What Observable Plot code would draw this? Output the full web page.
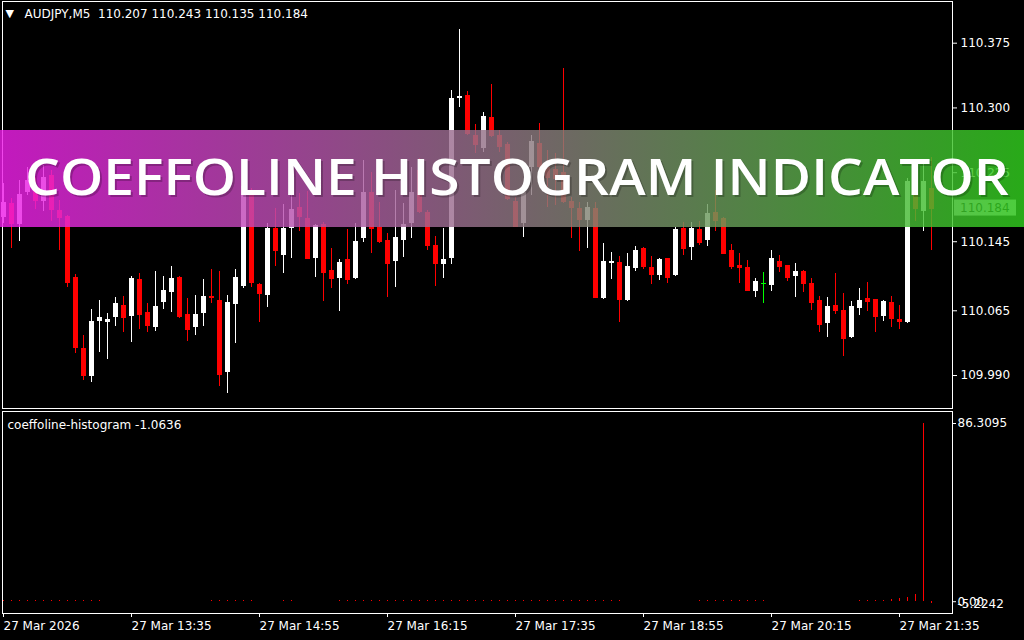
<!DOCTYPE html>
<html><head><meta charset="utf-8">
<script src="https://cdn.jsdelivr.net/npm/d3@7"></script>
<script src="https://cdn.jsdelivr.net/npm/@observablehq/plot@0.6"></script>
<style>
html,body{margin:0;padding:0;background:#000;}
#chart{width:1024px;height:640px;background:#000;overflow:hidden;position:relative;}
#chart svg{display:block;}
</style></head><body><div id="chart"></div>
<script>
const symbol = "AUDJPY,M5";
const opens = [110.173,110.189,110.165,110.202,110.208,110.192,110.222,110.181,110.174,110.104,
110.021,109.989,110.053,110.051,110.057,110.071,110.058,110.101,110.063,110.046,
110.075,110.086,110.104,110.061,110.046,110.062,110.082,110.077,109.994,110.072,
110.093,110.201,110.096,110.083,110.160,110.129,110.160,110.185,110.172,110.126,
110.165,110.112,110.102,110.124,110.102,110.149,110.202,110.161,110.146,110.122,
110.146,110.166,110.228,110.179,110.141,110.119,110.126,110.311,110.314,110.268,
110.253,110.289,110.268,110.258,110.192,110.166,110.231,110.259,110.231,110.229,
110.225,110.192,110.184,110.170,110.184,110.079,110.120,110.121,110.077,110.114,
110.137,110.115,110.106,110.126,110.106,110.160,110.138,110.159,110.146,110.179,
110.172,110.135,110.117,110.115,110.087,110.097,110.094,110.122,110.117,110.105,
110.110,110.097,110.077,110.050,110.071,110.065,110.034,110.068,110.079,110.078,
110.058,110.075,110.055,110.051,110.199,110.180,110.207];
const highs = [110.213,110.195,110.216,110.231,110.219,110.233,110.228,110.193,110.175,110.107,
110.036,110.066,110.077,110.062,110.080,110.082,110.105,110.108,110.073,110.110,
110.105,110.116,110.105,110.079,110.083,110.101,110.113,110.110,110.083,110.113,
110.236,110.207,110.097,110.166,110.184,110.188,110.202,110.201,110.203,110.165,
110.167,110.137,110.124,110.159,110.166,110.239,110.225,110.190,110.154,110.204,
110.189,110.231,110.241,110.181,110.151,110.160,110.320,110.391,110.319,110.281,
110.295,110.327,110.274,110.260,110.196,110.212,110.268,110.282,110.251,110.247,
110.346,110.196,110.190,110.190,110.190,110.143,110.133,110.128,110.131,110.139,
110.138,110.128,110.126,110.126,110.161,110.167,110.167,110.168,110.188,110.204,
110.173,110.142,110.131,110.123,110.102,110.109,110.135,110.129,110.117,110.120,
110.112,110.102,110.082,110.080,110.108,110.085,110.076,110.091,110.098,110.078,
110.077,110.082,110.071,110.218,110.222,110.236,110.243];
const lows = [110.166,110.137,110.145,110.198,110.182,110.180,110.168,110.135,110.092,110.015,
109.984,109.982,110.017,110.009,110.047,110.040,110.028,110.043,110.040,110.041,
110.066,110.063,110.056,110.029,110.036,110.047,110.073,109.977,109.969,110.027,
110.091,110.092,110.051,110.069,110.116,110.108,110.126,110.157,110.124,110.104,
110.076,110.091,110.064,110.096,110.101,110.144,110.131,110.143,110.080,110.092,
110.127,110.149,110.178,110.135,110.093,110.102,110.119,110.300,110.268,110.247,
110.248,110.266,110.248,110.193,110.161,110.150,110.198,110.228,110.185,110.187,
110.189,110.149,110.134,110.137,110.079,110.078,110.101,110.051,110.076,110.110,
110.113,110.096,110.100,110.097,110.105,110.129,110.123,110.141,110.139,110.157,
110.130,110.113,110.097,110.087,110.080,110.073,110.087,110.109,110.099,110.080,
110.086,110.065,110.040,110.034,110.061,110.012,110.033,110.060,110.064,110.040,
110.053,110.046,110.043,110.050,110.168,110.157,110.135];
const closes = [110.191,110.166,110.200,110.216,110.193,110.219,110.182,110.173,110.098,110.022,
109.990,110.053,110.057,110.055,110.073,110.057,110.102,110.061,110.048,110.070,
110.088,110.102,110.058,110.043,110.061,110.082,110.080,109.991,110.075,110.104,
110.209,110.098,110.085,110.160,110.135,110.160,110.182,110.174,110.126,110.164,
110.109,110.102,110.121,110.101,110.145,110.202,110.160,110.145,110.120,110.150,
110.165,110.202,110.180,110.141,110.120,110.124,110.311,110.313,110.270,110.258,
110.290,110.268,110.255,110.195,110.163,110.202,110.261,110.232,110.219,110.218,
110.192,110.185,110.171,110.185,110.080,110.122,110.122,110.078,110.116,110.135,
110.116,110.107,110.124,110.103,110.159,110.137,110.160,110.144,110.178,110.170,
110.131,110.116,110.115,110.088,110.099,110.097,110.126,110.116,110.103,110.110,
110.097,110.075,110.049,110.070,110.065,110.033,110.070,110.077,110.076,110.058,
110.076,110.056,110.053,110.215,110.183,110.215,110.184];
const histValues = [0.5,0.5,0.5,0.5,0.5,0.5,0.5,0.5,0.5,0.5,
0.5,0.5,0.5,0,0,0,0,0,0,0,
0,0,0,0,0,0,0.5,0.5,0.5,0.5,
0.5,0.5,0,0,0,0.5,0.5,0,0,0,
0,0,0.5,0.5,0.5,0.5,0.5,0.5,0.5,0.5,
0.5,0.5,0.5,0.5,0.5,0.5,0.5,0.5,0.5,0.5,
0.5,0.5,0.5,0.5,0.5,0.5,0.5,0.5,0.5,0.5,
0.5,0.5,0.5,0.5,0.5,0.5,0.5,0.5,0,0,
0,0,0,0,0,0,0,0.5,0.5,0.5,
0.5,0.5,0.5,0.5,0.5,0.5,0,0,0,0,
0,0,0,0,0,0,0,0.5,0.5,0.5,
0.7,1.0,1.5,2.1,3.4,86.3095,-1.0636];
const priceTicks = [110.375, 110.300, 110.225, 110.145, 110.065, 109.990];
const histTicks = [86.3095, 0];
const histTickLabels = ["86.3095", "0.00"];
const histMin = -5.2242;
const histMinLabel = "-5.2242";
const timeTickBars = [0, 16, 32, 48, 64, 80, 96, 112];
const timeTickLabels = ["27 Mar 2026", "27 Mar 13:35", "27 Mar 14:55", "27 Mar 16:15",
  "27 Mar 17:35", "27 Mar 18:55", "27 Mar 20:15", "27 Mar 21:35"];
const indicatorName = "coeffoline-histogram";
const bannerTitle = "COEFFOLINE HISTOGRAM INDICATOR";

const bars = opens.map((o, i) => ({i, open: o, high: highs[i], low: lows[i], close: closes[i]}));
const hist = histValues.map((v, i) => ({i, v}));
const last = bars[bars.length - 1];
const lastHist = histValues[histValues.length - 1];
const header = `${symbol}\u00a0\u00a0${last.open.toFixed(3)} ${last.high.toFixed(3)} ${last.low.toFixed(3)} ${last.close.toFixed(3)}`;
const candleColor = d => d.close > d.open ? "#ffffff" : d.close < d.open ? "#ff0000" : "#00ff00";
const xDomain = [-0.125, 118.625];
const font = "DejaVu Sans, sans-serif";
const halfBody = 0.3125;

const plot1 = Plot.plot({
  width: 1024, height: 410,
  marginLeft: 2, marginRight: 72, marginTop: 1, marginBottom: 2,
  style: {background: "#000", color: "#fff", fontFamily: font, fontSize: "12px"},
  x: {domain: xDomain, axis: null},
  y: {domain: [109.9518, 110.4233], axis: null},
  marks: [
    Plot.ruleX(bars, {x: "i", y1: "low", y2: "high", stroke: candleColor, shapeRendering: "crispEdges"}),
    Plot.rect(bars, {x1: d => d.i - halfBody, x2: d => d.i + halfBody, y1: "open", y2: "close", fill: candleColor, shapeRendering: "crispEdges"}),
    Plot.ruleY(bars, {y: "close", x1: d => d.i - halfBody, x2: d => d.i + halfBody, stroke: candleColor, shapeRendering: "crispEdges"}),
    Plot.frame({stroke: "#fff", shapeRendering: "crispEdges"}),
    Plot.axisY({anchor: "right", label: null, ticks: priceTicks, tickFormat: d => d.toFixed(3), tickSize: 4, tickPadding: 4, fill: "#fff", stroke: "#fff"}),
    Plot.text([header], {frameAnchor: "top-left", dx: 22, dy: 8, lineAnchor: "top", textAnchor: "start", fill: "#fff", fontSize: 12}),
    Plot.text(["\u25BC"], {frameAnchor: "top-left", dx: 3, dy: 8, lineAnchor: "top", textAnchor: "start", fill: "#fff", fontSize: 11})
  ]
});

const plot2 = Plot.plot({
  width: 1024, height: 230,
  marginLeft: 2, marginRight: 72, marginTop: 1, marginBottom: 27,
  style: {background: "#000", color: "#fff", fontFamily: font, fontSize: "12px"},
  x: {domain: xDomain, axis: null},
  y: {domain: [histMin, 86.3095], range: [202, 13], axis: null},
  marks: [
    Plot.ruleX(hist, {x: "i", y1: 0, y2: "v", stroke: "#ff0000", shapeRendering: "crispEdges"}),
    Plot.frame({stroke: "#fff", shapeRendering: "crispEdges"}),
    Plot.axisY({anchor: "right", label: null, ticks: histTicks, tickFormat: (d, i) => histTickLabels[i], tickSize: 3, tickPadding: 2, fill: "#fff", stroke: "#fff"}),
    Plot.text([histMinLabel], {y: 0, frameAnchor: "right", dx: 5, dy: 2, textAnchor: "start", fill: "#fff"}),
    Plot.axisX({anchor: "bottom", label: null, ticks: timeTickBars, tickFormat: (d, i) => timeTickLabels[i], tickSize: 4, tickPadding: 4, textAnchor: "start", fill: "#fff", stroke: "#fff"}),
    Plot.text([`${indicatorName} ${lastHist.toFixed(4)}`], {frameAnchor: "top-left", dx: 5, dy: 9, lineAnchor: "top", textAnchor: "start", fill: "#fff", fontSize: 12})
  ]
});

const root = document.getElementById("chart");
root.appendChild(plot1);
root.appendChild(plot2);

// bid price box on the right scale (under the banner)
const svg1 = d3.select(plot1);
const yBid = plot1.scale("y").apply(last.close);
svg1.append("rect").attr("x", 954).attr("y", yBid - 8).attr("width", 62).attr("height", 16).attr("fill", "#c8c8c8");
svg1.append("text").attr("x", 960).attr("y", yBid + 4.5).attr("fill", "#000").attr("text-anchor", "start")
  .attr("font-family", font).attr("font-size", 12).text(last.close.toFixed(3));

// banner overlay
const defs = svg1.append("defs");
const grad = defs.append("linearGradient").attr("id", "bannerGrad").attr("x1", "0").attr("x2", "1").attr("y1", "0").attr("y2", "0");
grad.append("stop").attr("offset", "0").attr("stop-color", "#ee1ee8");
grad.append("stop").attr("offset", "1").attr("stop-color", "#31cf1e");
svg1.append("rect").attr("x", 0).attr("y", 130).attr("width", 1024).attr("height", 97)
  .attr("fill", "url(#bannerGrad)").attr("opacity", 0.82);
const bannerText = (x, y, fill) => svg1.append("text").attr("x", x).attr("y", y).attr("fill", fill)
  .attr("text-anchor", "start")
  .attr("font-family", "'Open Sans', sans-serif").attr("font-weight", 600).attr("font-size", 50)
  .attr("textLength", 984).attr("lengthAdjust", "spacingAndGlyphs").text(bannerTitle);
bannerText(27, 197, "rgba(0,0,0,0.22)");
bannerText(25, 195, "#fff");
</script></body></html>
